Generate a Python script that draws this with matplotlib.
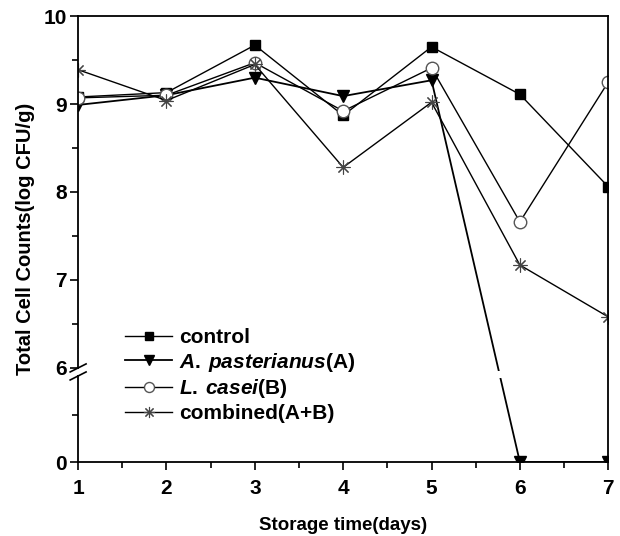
import numpy as np
import matplotlib
matplotlib.use('Agg')
import matplotlib.pyplot as plt
from matplotlib.lines import Line2D

plt.rcParams['font.family'] = ['Liberation Sans', 'DejaVu Sans']
plt.rcParams['font.weight'] = 'bold'
plt.rcParams['mathtext.fontset'] = 'custom'
plt.rcParams['mathtext.it'] = 'Liberation Sans:italic:bold'
plt.rcParams['mathtext.rm'] = 'Liberation Sans:bold'

days = [1, 2, 3, 4, 5, 6, 7]
control = [9.08, 9.13, 9.67, 8.87, 9.65, 9.11, 8.06]
a_past = [8.99, 9.10, 9.30, 9.09, 9.27, 0.0, 0.0]
l_casei = [9.07, 9.10, 9.47, 8.92, 9.41, 7.66, 9.25]
combined = [9.39, 9.04, 9.45, 8.28, 9.02, 7.17, 6.58]

labels = ['control', r'$\mathit{A.\:pasterianus}$(A)', r'$\mathit{L.\:casei}$(B)',
          'combined(A+B)']

# broken axis: 0..6 squeezed into a short segment below 6
L = 1.07


def fwd(y):
    y = np.asarray(y, dtype=float)
    return np.where(y >= 6, y, 6 - L + y * (L / 6))


def inv(d):
    d = np.asarray(d, dtype=float)
    return np.where(d >= 6, d, (d - (6 - L)) * 6 / L)


fig = plt.figure(figsize=(6.2, 5.36), dpi=100)
ax = fig.add_axes([0.126, 0.138, 0.855, 0.832])
ax.set_yscale('function', functions=(fwd, inv))

ax.plot(days, control, color='black', lw=1.0, marker='s', ms=7,
        mfc='black', mec='black', label=labels[0])
ax.plot(days, a_past, color='black', lw=1.3, marker='v', ms=9,
        mfc='black', mec='black', label=labels[1])
ax.plot(days, l_casei, color='black', lw=1.0, marker='o', ms=9,
        mfc='white', mec='#555555', label=labels[2])
ax.plot(days, combined, color='black', lw=1.0, marker=(8, 2, 0), ms=10,
        mec='#444444', mew=0.8, label=labels[3])

ax.set_xlim(1, 7)
ax.set_ylim(0, 10)
ax.set_xticks(days)
ax.set_xticks(np.arange(1.5, 7, 1), minor=True)
ax.set_yticks([0, 6, 7, 8, 9, 10])
ax.set_yticks([3, 6.5, 7.5, 8.5, 9.5], minor=True)
ax.tick_params(axis='both', which='major', direction='out', length=6, width=1.2,
               labelsize=15)
ax.tick_params(axis='x', which='major', pad=6)
ax.tick_params(axis='y', which='major', pad=2)
ax.tick_params(axis='both', which='minor', direction='out', length=4, width=1.2)
for lab in ax.get_xticklabels() + ax.get_yticklabels():
    lab.set_fontweight('bold')
for s in ax.spines.values():
    s.set_linewidth(1.3)

# white gap across the plot at the break
ax.axhspan(inv(5.97), inv(5.89), color='white', zorder=2.2, lw=0)

# break mark on the left spine
ax.add_patch(plt.Rectangle((-0.01, 0.196), 0.02, 0.013, transform=ax.transAxes,
                           color='white', clip_on=False, zorder=5, lw=0))
for yy in (0.211, 0.193):
    ax.add_line(Line2D([-0.015, 0.015], [yy - 0.009, yy + 0.009], transform=ax.transAxes,
                       color='black', lw=1.2, clip_on=False, zorder=6))

ax.set_xlabel('Storage time(days)', fontsize=13.5, fontweight='bold', labelpad=14)
ax.set_ylabel('Total Cell Counts(log CFU/g)', fontsize=14.5, fontweight='bold', labelpad=6)

leg = ax.legend(loc='upper left', bbox_to_anchor=(0.089, 0.300), frameon=False,
                fontsize=15, handlelength=2.26, handletextpad=0.3, labelspacing=0.17,
                borderaxespad=0, borderpad=0, markerscale=0.8)
for t in leg.get_texts():
    t.set_fontweight('bold')

fig.savefig('out.png', dpi=100)
